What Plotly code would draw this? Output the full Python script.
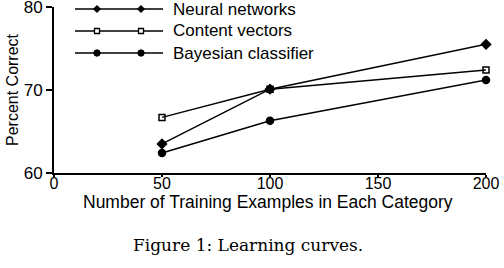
import plotly.graph_objects as go

examples = [50, 100, 200]
neural = [63.5, 70.1, 75.5]
content = [66.7, 70.1, 72.4]
bayes = [62.4, 66.3, 71.2]
names = ["Neural networks", "Content vectors", "Bayesian classifier"]

series = [
    (names[0], neural, "diamond", 7),
    (names[1], content, "square-open", 6),
    (names[2], bayes, "circle", 7),
]

fig = go.Figure()
for name, vals, sym, sz in series:
    fig.add_trace(go.Scatter(
        x=examples, y=vals, name=name, mode="lines+markers",
        line=dict(color="black", width=1.5),
        marker=dict(symbol=sym, size=sz, color="black", line=dict(color="black", width=1.5)),
        cliponaxis=False, showlegend=False,
    ))

fam = "Liberation Sans, Arial, sans-serif"
font = dict(family=fam, size=17, color="black")
tickfont = dict(family=fam, size=16, color="black")

W, H = 504, 268
ML, MR, MT, MB = 54, 18, 0, 95
PW, PH = W - ML - MR, H - MT - MB


def px(xp):
    return (xp - ML) / PW


def py(yp):
    return (PH + MT - yp) / PH


# hand-drawn legend (line with two markers, label at the right)
shapes = []
annotations = []
row_y = [9, 31, 53]
for i, (name, vals, sym, sz) in enumerate(series):
    yy = row_y[i]
    shapes.append(dict(type="line", xref="paper", yref="paper",
                       x0=px(75), x1=px(163), y0=py(yy), y1=py(yy),
                       line=dict(color="black", width=1.5)))
    for mx in (97, 141):
        if sym == "diamond":
            r = 3.5
            path = (f"M {px(mx - r)},{py(yy)} L {px(mx)},{py(yy - r)} "
                    f"L {px(mx + r)},{py(yy)} L {px(mx)},{py(yy + r)} Z")
            shapes.append(dict(type="path", xref="paper", yref="paper", path=path,
                               fillcolor="black", line=dict(color="black", width=1)))
        elif sym == "square-open":
            r = 2.5
            shapes.append(dict(type="rect", xref="paper", yref="paper",
                               x0=px(mx - r), x1=px(mx + r), y0=py(yy - r), y1=py(yy + r),
                               fillcolor="white", line=dict(color="black", width=1.3)))
        else:
            r = 3.2
            shapes.append(dict(type="circle", xref="paper", yref="paper",
                               x0=px(mx - r), x1=px(mx + r), y0=py(yy - r), y1=py(yy + r),
                               fillcolor="black", line=dict(color="black", width=1)))
    annotations.append(dict(text=name, xref="paper", yref="paper", x=px(171), y=py(yy),
                            xanchor="left", yanchor="middle", showarrow=False, font=font))

annotations.append(dict(text="Number of Training Examples in Each Category",
                        xref="paper", yref="paper", x=px(268), y=py(202),
                        xanchor="center", yanchor="middle", showarrow=False,
                        font=dict(family=fam, size=17.5, color="black")))
annotations.append(dict(text="Figure 1: Learning curves.", xref="paper", yref="paper",
                        x=px(248), y=py(245), xanchor="center", yanchor="middle", showarrow=False,
                        font=dict(family="DejaVu Serif, Liberation Serif, serif", size=17, color="black")))

fig.update_layout(
    width=W, height=H,
    margin=dict(l=ML, r=MR, t=MT, b=MB, autoexpand=False),
    paper_bgcolor="white", plot_bgcolor="white",
    font=font,
    showlegend=False,
    xaxis=dict(range=[0, 200], tickvals=[0, 50, 100, 150, 200], automargin=False,
               showgrid=False, zeroline=False, showline=True, linecolor="black", linewidth=2,
               ticks="outside", ticklen=2, tickcolor="black", tickwidth=1.5,
               ticklabelstandoff=-7,
               tickfont=tickfont),
    yaxis=dict(range=[60, 80], tickvals=[60, 70, 80], domain=[0, 1 - 7 / PH], automargin=False,
               showgrid=False, zeroline=False, showline=True, linecolor="black", linewidth=2,
               ticks="outside", ticklen=6, tickcolor="black", tickwidth=1.5,
               ticklabeloverflow="allow",
               title=dict(text="Percent Correct", standoff=1, font=dict(family=fam, size=16, color="black")),
               tickfont=font),
    shapes=shapes,
    annotations=annotations,
)

fig.write_html("out.html")
